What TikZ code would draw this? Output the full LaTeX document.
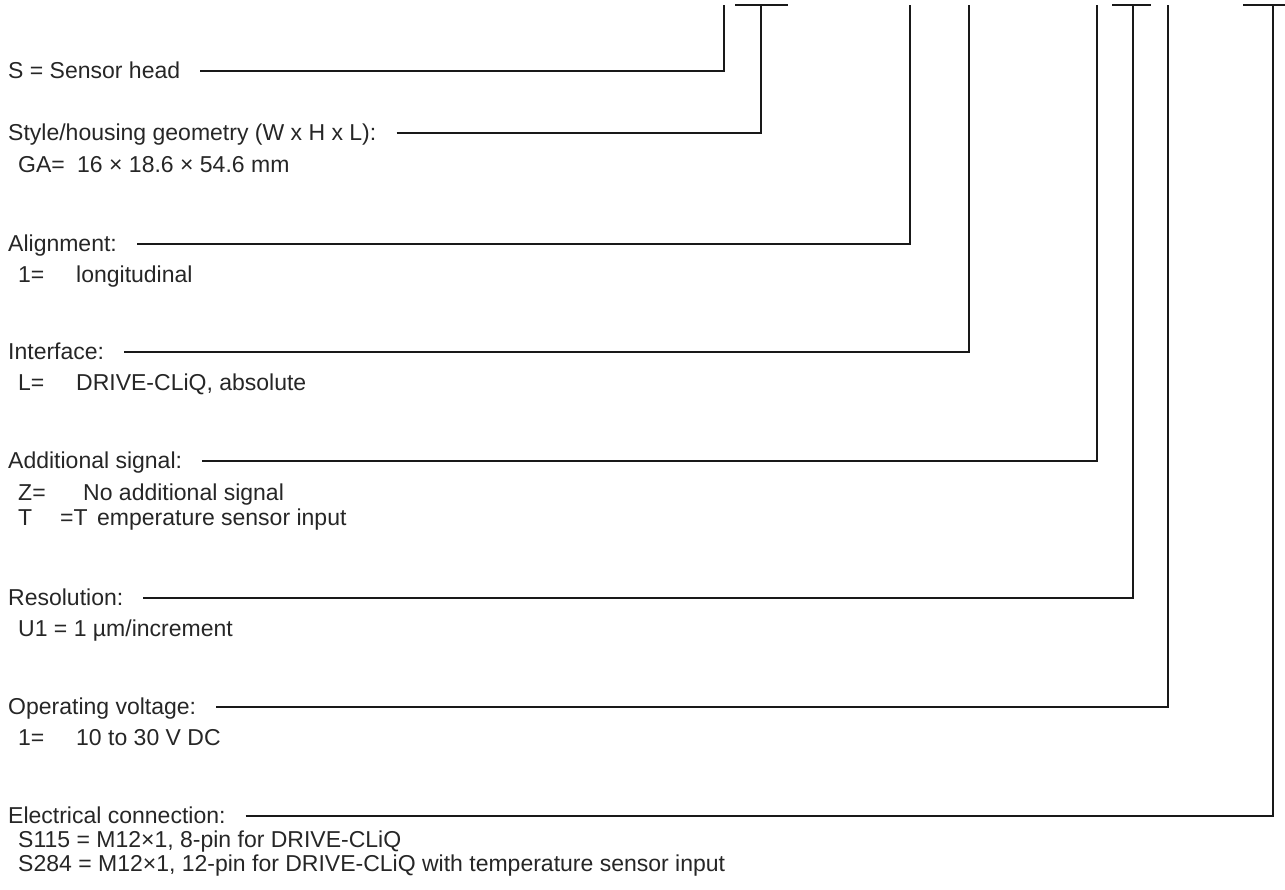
\documentclass[tikz,border=0pt]{standalone}
\usepackage{fontspec}
\setmainfont{Liberation Sans}
\usetikzlibrary{calc}
\tikzset{
  lbl/.style={anchor=base west, inner sep=0pt, font=\fontsize{23}{27}\selectfont, text=black!85},
  lead/.style={line width=1.3pt, draw=black!90},
}
\begin{document}
\begin{tikzpicture}[x=1pt,y=-1pt]
\useasboundingbox (0,0) rectangle (1285,889);
% top ends of the leaders
\coordinate (tS) at (724,5);
\coordinate (tG) at (761,5);
\coordinate (tA) at (910,5);
\coordinate (tI) at (969,5);
\coordinate (tZ) at (1097,5);
\coordinate (tR) at (1133,5);
\coordinate (tO) at (1168,5);
\coordinate (tE) at (1273,5);
% top bars
\coordinate (bGl) at (735,5);  \coordinate (bGr) at (788,5);
\coordinate (bRl) at (1112,5); \coordinate (bRr) at (1151,5);
\coordinate (bEl) at (1243,5); \coordinate (bEr) at (1285,5);
\draw[lead] (bGl) -- (bGr);
\draw[lead] (bRl) -- (bRr);
\draw[lead] (bEl) -- (bEr);

% headers
\node[lbl] (hS) at (8,78)  {S = Sensor head};
\node[lbl] (hG) at (8,140) {Style/housing geometry (W x H x L):};
\node[lbl] (hA) at (8,251) {Alignment:};
\node[lbl] (hI) at (8,359) {Interface:};
\node[lbl] (hZ) at (8,468) {Additional signal:};
\node[lbl] (hR) at (8,605) {Resolution:};
\node[lbl] (hO) at (8,714) {Operating voltage:};
\node[lbl] (hE) at (8,823) {Electrical connection:};

\draw[lead] ($(hS.base east)+(20,-7)$) -| (tS);
\draw[lead] ($(hG.base east)+(20,-7)$) -| (tG);
\draw[lead] ($(hA.base east)+(20,-7)$) -| (tA);
\draw[lead] ($(hI.base east)+(20,-7)$) -| (tI);
\draw[lead] ($(hZ.base east)+(20,-7)$) -| (tZ);
\draw[lead] ($(hR.base east)+(20,-7)$) -| (tR);
\draw[lead] ($(hO.base east)+(20,-7)$) -| (tO);
\draw[lead] ($(hE.base east)+(20,-7)$) -| (tE);

% options
\node[lbl] (g1k) at (18,172) {GA=};
\node[lbl] (g1v) at (77,172) {16 × 18.6 × 54.6 mm};
\node[lbl] (a1k) at (18,282) {1=};
\node[lbl] (a1v) at (76,282) {longitudinal};
\node[lbl] (i1k) at (18,390) {L=};
\node[lbl] (i1v) at (76,390) {DRIVE-CLiQ, absolute};
\node[lbl] (z1k) at (18,500) {Z=};
\node[lbl] (z1v) at (83,500) {No additional signal};
\node[lbl] (z2k) at (18,525) {T};
\node[lbl] (z2e) at (60,525) {=T};
\node[lbl] (z2v) at (97,525) {emperature sensor input};
\node[lbl] (r1)  at (18,636) {U1 = 1 µm/increment};
\node[lbl] (o1k) at (18,745) {1=};
\node[lbl] (o1v) at (76,745) {10 to 30 V DC};
\node[lbl] (e1)  at (18,847) {S115 = M12×1, 8-pin for DRIVE-CLiQ};
\node[lbl] (e2)  at (18,871) {S284 = M12×1, 12-pin for DRIVE-CLiQ with temperature sensor input};
\end{tikzpicture}
\end{document}
